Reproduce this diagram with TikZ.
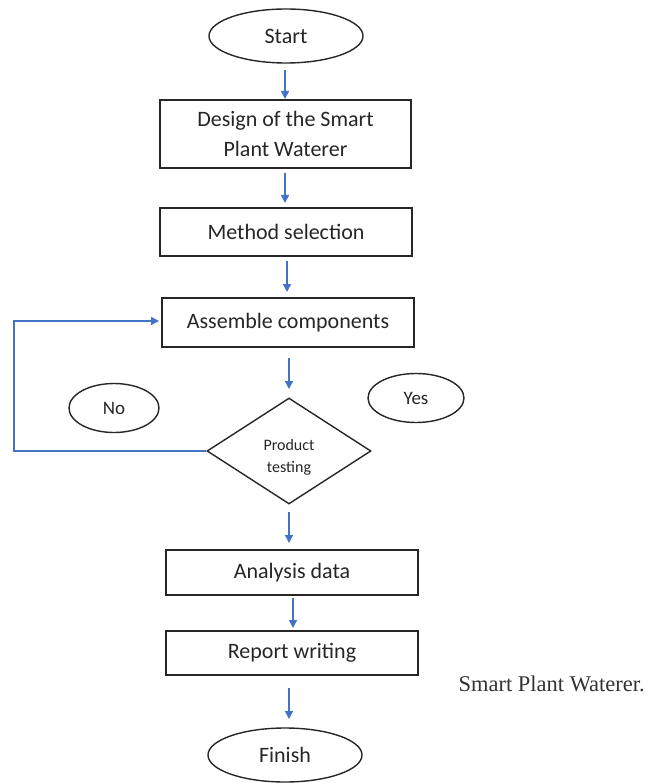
\documentclass[tikz,border=0pt]{standalone}
\usepackage{fontspec}
\setmainfont{Carlito}
\newfontfamily\capfont{Liberation Serif}
\usetikzlibrary{arrows.meta,shapes.geometric}
\definecolor{flowblue}{RGB}{68,114,196}
\begin{document}
\begin{tikzpicture}[x=1pt,y=-1pt,
  every node/.style={font=\fontsize{22}{30}\selectfont, text=black!85},
  terminal/.style={draw=black!85, line width=1.4pt, ellipse, inner sep=0pt},
  stepbox/.style={draw=black!85, line width=1.6pt, rectangle, inner sep=0pt, align=center},
  decision/.style={draw=black!85, line width=1.4pt, diamond, inner sep=0pt, aspect=1.55},
  flow/.style={draw=flowblue, line width=1.5pt, -{Triangle[width=8pt,length=8pt]}}]
\useasboundingbox (0,0) rectangle (649,783);

% terminals
\node[terminal, minimum width=154pt, minimum height=54pt] (start) at (286,36) {Start};
\node[terminal, minimum width=154pt, minimum height=54pt] (finish) at (285,755) {Finish};

% process steps
\node[stepbox, minimum width=251pt, minimum height=68pt] (design) at (285.5,134) {Design of the Smart\\Plant Waterer};
\node[stepbox, minimum width=252pt, minimum height=48pt] (method) at (286,232) {Method selection};
\node[stepbox, minimum width=252pt, minimum height=49pt] (assemble) at (288,322.5) {Assemble components};
\node[stepbox, minimum width=252pt, minimum height=45pt] (analysis) at (292,572.5) {Analysis data};
\node[stepbox, minimum width=252pt, minimum height=44pt] (report) at (292,653) {Report writing};

% decision, with its label set a little low
\node[decision, minimum width=164pt, minimum height=106pt] (test) at (289,451) {};
\node[font=\fontsize{16}{22}\selectfont, align=center] (testlabel) at (289,457) {Product\\testing};

% answer labels
\node[terminal, minimum width=90pt, minimum height=49pt, font=\fontsize{19}{22}\selectfont] (no) at (114,408) {No};
\node[terminal, minimum width=96pt, minimum height=49pt, font=\fontsize{19}{22}\selectfont] (yes) at (416,398) {Yes};

% caption
\node[anchor=west, font=\capfont\fontsize{22.5}{24}\selectfont, text=black!80] (caption) at (455,684) {Smart Plant Waterer.};

% free ends of the short arrows
\coordinate (a1s) at (285,70);   \coordinate (a1e) at (285,99);
\coordinate (a2s) at (285,173);  \coordinate (a2e) at (285,203);
\coordinate (a3s) at (287,261);  \coordinate (a3e) at (287,292);
\coordinate (a4s) at (289,358);  \coordinate (a4e) at (289,389);
\coordinate (a5s) at (289,512);  \coordinate (a5e) at (289,543);
\coordinate (a6s) at (293,598);  \coordinate (a6e) at (293,628);
\coordinate (a7s) at (289,688);  \coordinate (a7e) at (289,719);

\draw[flow] (a1s) -- (a1e);
\draw[flow] (a2s) -- (a2e);
\draw[flow] (a3s) -- (a3e);
\draw[flow] (a4s) -- (a4e);
\draw[flow] (a5s) -- (a5e);
\draw[flow] (a6s) -- (a6e);
\draw[flow] (a7s) -- (a7e);

% loop back from the test to assembly
\coordinate (loopin) at (159,321);
\draw[flow] (test.west) -- (14,451) -- (14,321) -- (loopin);
\end{tikzpicture}
\end{document}
